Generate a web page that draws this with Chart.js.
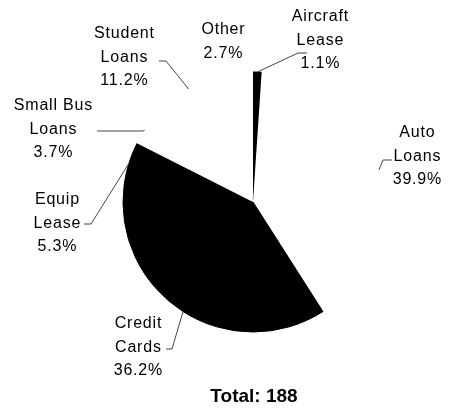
<!DOCTYPE html>
<html>
<head>
<meta charset="utf-8">
<script src="https://cdn.jsdelivr.net/npm/chart.js@4/dist/chart.umd.min.js"></script>
<style>
  html, body { margin: 0; padding: 0; background: #fff; }
  #wrap { width: 450px; height: 410px; position: relative; }
</style>
</head>
<body>
<div id="wrap"><canvas id="graphique"></canvas></div>
<script>
  // categories and values (total 188)
  const categories = ["Aircraft Lease", "Auto Loans", "Credit Cards", "Equip Lease", "Small Bus Loans", "Student Loans", "Other"];
  const valeurs = [2, 75, 68, 10, 7, 21, 5];
  const remplis = ["#000", "#fff", "#000", "#000", "#fff", "#fff", "#fff"];

  // label text lines (name split over lines)
  const lignes = [
    ["Aircraft", "Lease"],
    ["Auto", "Loans"],
    ["Credit", "Cards"],
    ["Equip", "Lease"],
    ["Small Bus", "Loans"],
    ["Student", "Loans"],
    ["Other"]
  ];

  // label layout: text centre x, first line y, leader knee and end (null = no leader)
  const placement = [
    { x: 320, y: 17, knee: [298, 53], end: [307, 53] },
    { x: 417, y: 133, knee: [383, 160], end: [392, 160] },
    { x: 138, y: 324, knee: [172, 349], end: [166, 349] },
    { x: 57, y: 200, knee: [91, 224], end: [84, 224] },
    { x: 53, y: 106, knee: [143, 131], end: [97, 131] },
    { x: 124, y: 34, knee: [166, 61], end: [159, 61] },
    { x: 223, y: 30, knee: null, end: null }
  ];

  const total = valeurs.reduce((a, b) => a + b, 0);

  const etiquettes = {
    id: "etiquettes",
    afterDraw(chart) {
      const ctx = chart.ctx;
      const arcs = chart.getDatasetMeta(0).data;
      ctx.save();
      ctx.font = "16px 'Liberation Sans', Arial, sans-serif";
      ctx.letterSpacing = "0.8px";
      ctx.fillStyle = "#000";
      ctx.textAlign = "center";
      ctx.textBaseline = "middle";
      arcs.forEach((arc, i) => {
        const p = placement[i];
        const pct = (valeurs[i] / total * 100).toFixed(1) + "%";
        const txt = lignes[i].concat([pct]);
        txt.forEach((t, k) => ctx.fillText(t, p.x + 0.4, p.y + k * 23.5));
        if (p.knee) {
          const mid = (arc.startAngle + arc.endAngle) / 2;
          const ax = arc.x + Math.cos(mid) * arc.outerRadius;
          const ay = arc.y + Math.sin(mid) * arc.outerRadius;
          ctx.beginPath();
          ctx.strokeStyle = "#444";
          ctx.lineWidth = 1;
          ctx.moveTo(ax, ay);
          ctx.lineTo(p.knee[0], p.knee[1]);
          ctx.lineTo(p.end[0], p.end[1]);
          ctx.stroke();
        }
      });
      ctx.letterSpacing = "0px";
      ctx.font = "bold 19px 'Liberation Sans', Arial, sans-serif";
      ctx.fillText("Total: " + total, 254, 397);
      ctx.restore();
    }
  };

  new Chart(document.getElementById("graphique").getContext("2d"), {
    type: "pie",
    data: {
      labels: categories,
      datasets: [{
        data: valeurs,
        backgroundColor: remplis,
        borderColor: remplis,
        borderWidth: remplis.map(c => c === "#000" ? 1 : 0),
        borderJoinStyle: "miter"
      }]
    },
    options: {
      responsive: true,
      maintainAspectRatio: false,
      animation: false,
      radius: 130,
      layout: { padding: { left: 80, right: 24, top: 40, bottom: 46 } },
      plugins: {
        legend: { display: false },
        tooltip: { enabled: false },
        title: { display: false }
      }
    },
    plugins: [etiquettes]
  });
</script>
</body>
</html>
